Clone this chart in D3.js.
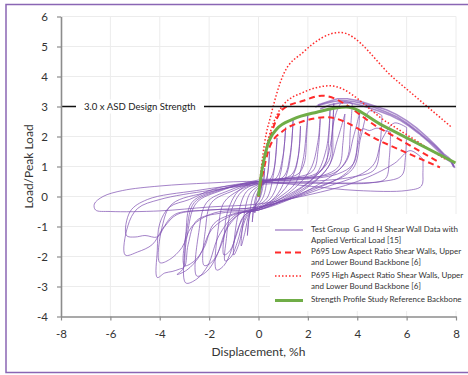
<!DOCTYPE html>
<html><head><meta charset="utf-8">
<script src="https://cdn.jsdelivr.net/npm/d3@7"></script>
<style>
body{margin:0;background:#fff;}
text{font-family:Lato,"Open Sans",sans-serif;}
</style></head>
<body><svg id="c" width="468" height="375"></svg>
<script>
// ---------- data ----------
const xTicks = [-8,-6,-4,-2,0,2,4,6,8];
const yTicks = [-4,-3,-2,-1,0,1,2,3,4,5,6];
const asdLevel = 3.0;
const asdLabel = "3.0 x ASD Design Strength";
const xTitle = "Displacement, %h";
const yTitle = "Load/Peak Load";
const legendLabels = [
  ["Test Group  G and H Shear Wall Data with","Applied Vertical Load [15]"],
  ["P695 Low Aspect Ratio Shear Walls, Upper","and Lower Bound Backbone [6]"],
  ["P695 High Aspect Ratio Shear Walls, Upper","and Lower Bound Backbone [6]"],
  ["Strength Profile Study Reference Backbone"]
];
// backbones
const greenX = [0, 0.1, 0.2, 0.36, 0.74, 1.4, 2.36, 3.55, 5.0, 7.98];
const greenY = [0, 0.65, 1.14, 1.69, 2.25, 2.58, 2.81, 2.98, 2.38, 1.12];
const lowUpX = [0, 0.15, 0.5, 1.0, 1.81, 2.56, 4.9, 7.22];
const lowUpY = [0, 0.9, 2.05, 2.92, 3.19, 3.36, 2.28, 1.19];
const lowLoX = [0, 0.2, 0.47, 1.0, 1.68, 2.76, 5.0, 7.35];
const lowLoY = [0, 0.85, 1.69, 2.19, 2.47, 2.64, 1.82, 0.97];
const highUpX = [0, 0.12, 0.25, 0.5, 1.0, 1.81, 3.3, 5.5, 7.82];
const highUpY = [0, 1.0, 1.8, 2.7, 4.05, 4.81, 5.47, 3.93, 2.31];
const highLoX = [0, 0.15, 0.3, 0.5, 1.0, 1.81, 2.9, 5.2, 7.55];
const highLoY = [0, 0.9, 1.6, 2.2, 3.05, 3.47, 3.69, 2.48, 1.25];
// test data: hysteresis loops [x, y]
const loop01 = [[0.15,0.6],[0.1,0.25],[0,0.12],[-0.1,-0.15],[-0.15,-0.55],[-0.1,-0.25],[0,-0.12],[0.1,0.15],[0.15,0.6]];
const loop02 = [[0.25,0.95],[0.2,0.5],[0.1,0.3],[0,0.2],[-0.12,-0.05],[-0.2,-0.4],[-0.25,-0.85],[-0.2,-0.45],[-0.1,-0.25],[0,-0.15],[0.12,0.1],[0.2,0.45],[0.25,0.95]];
const loop03 = [[0.45,1.5],[0.38,0.8],[0.25,0.45],[0,0.3],[-0.2,0.05],[-0.35,-0.5],[-0.45,-1.3],[-0.38,-0.7],[-0.25,-0.4],[0,-0.25],[0.2,0.0],[0.35,0.6],[0.45,1.5]];
const loop04 = [[0.75,1.95],[0.65,1.0],[0.45,0.55],[0,0.35],[-0.35,0.1],[-0.58,-0.6],[-0.7,-1.65],[-0.55,-1.2],[-0.35,-0.55],[0,-0.3],[0.35,-0.05],[0.6,0.7],[0.75,1.95]];
const loop05 = [[1.1,2.3],[0.98,1.3],[0.7,0.6],[0,0.4],[-0.5,0.15],[-0.85,-0.7],[-1.0,-1.95],[-0.8,-1.6],[-0.55,-0.8],[-0.25,-0.45],[0,-0.35],[0.5,-0.05],[0.9,0.8],[1.1,2.3]];
const loop06 = [[1.4,2.55],[1.28,1.4],[1.0,0.65],[0,0.45],[-0.7,0.15],[-1.15,-0.6],[-1.3,-1.4],[-1.35,-2.15],[-1.1,-2.0],[-0.85,-1.5],[-0.6,-0.8],[-0.3,-0.45],[0,-0.4],[0.7,0.0],[1.2,0.9],[1.4,2.55]];
const loop07 = [[1.7,2.35],[1.6,1.3],[1.3,0.7],[0,0.5],[-0.8,0.2],[-1.25,-0.5],[-1.38,-1.2],[-1.4,-1.95],[-1.15,-1.8],[-0.9,-1.3],[-0.6,-0.65],[0,-0.4],[0.9,0.1],[1.5,0.9],[1.7,2.35]];
const loop08 = [[2.0,2.75],[1.95,2.0],[1.85,1.1],[1.6,0.75],[1.0,0.6],[0,0.45],[-0.8,0.2],[-1.4,-0.2],[-1.62,-1.0],[-1.7,-2.45],[-1.4,-2.3],[-1.1,-1.8],[-0.8,-1.0],[-0.4,-0.5],[0,-0.4],[0.8,-0.05],[1.5,0.45],[1.8,1.2],[1.95,2.3],[2.0,2.75]];
const loop09 = [[2.5,2.6],[2.42,1.6],[2.2,0.85],[1.2,0.6],[0,0.5],[-1.0,0.2],[-1.9,-0.2],[-2.15,-1.1],[-2.2,-2.3],[-1.85,-2.15],[-1.5,-1.6],[-1.2,-0.9],[-0.6,-0.5],[0,-0.4],[1.2,0.1],[2.1,0.9],[2.4,1.8],[2.5,2.6]];
const loop10 = [[2.9,2.95],[2.85,2.0],[2.72,1.1],[2.3,0.7],[1.2,0.6],[0,0.5],[-1.2,0.2],[-2.1,-0.2],[-2.42,-1.2],[-2.5,-2.65],[-2.1,-2.5],[-1.7,-2.0],[-1.3,-1.1],[-0.7,-0.55],[0,-0.4],[1.2,0.05],[2.3,0.7],[2.75,1.6],[2.9,2.95]];
const loop11 = [[3.05,3.1],[2.98,2.1],[2.85,1.2],[2.3,0.75],[1.2,0.6],[0,0.55],[-1.5,0.2],[-2.5,-0.2],[-2.85,-1.1],[-2.95,-2.88],[-2.5,-2.75],[-2.05,-2.3],[-1.6,-1.3],[-0.9,-0.6],[0,-0.45],[1.5,0.15],[2.6,0.95],[2.95,1.9],[3.05,3.1]];
const loop12 = [[3.8,3.1],[3.72,2.2],[3.6,1.3],[3.1,0.8],[1.5,0.6],[0,0.5],[-1.5,0.25],[-2.7,-0.2],[-2.95,-1.3],[-3.05,-2.4],[-3.3,-2.6],[-2.9,-2.45],[-2.4,-2.0],[-1.9,-1.1],[-1.0,-0.6],[0,-0.45],[1.8,0.2],[2.9,1.1],[3.05,2.5],[3.4,3.15],[3.8,3.1]];
const loop13 = [[3.5,2.75],[3.42,1.8],[3.25,1.0],[2.6,0.7],[1.2,0.55],[0,0.5],[-1.6,0.2],[-2.6,-0.2],[-2.9,-1.1],[-3.0,-2.3],[-2.6,-2.15],[-2.2,-1.7],[-1.8,-0.9],[-0.9,-0.55],[0,-0.45],[1.6,0.15],[2.8,0.95],[3.2,1.9],[3.5,2.75]];
const loop14 = [[4.1,2.8],[4.02,1.9],[3.85,1.1],[3.2,0.75],[1.5,0.55],[0,0.5],[-1.8,0.25],[-2.8,-0.1],[-3.6,-0.35],[-4.0,-0.9],[-4.1,-1.8],[-4.1,-2.7],[-3.8,-2.55],[-3.5,-2.5],[-3.2,-2.42],[-3.0,-2.35],[-2.85,-1.6],[-2.5,-0.8],[-1.5,-0.55],[0,-0.45],[2.0,0.2],[3.5,1.1],[3.85,2.0],[4.1,2.8]];
const loop15 = [[5.0,2.7],[4.92,1.7],[4.7,0.9],[3.8,0.65],[2,0.5],[0,0.45],[-2,0.15],[-3.5,-0.25],[-3.9,-1.0],[-4.0,-2.2],[-3.6,-2.1],[-3.1,-1.7],[-2.7,-1.0],[-1.8,-0.55],[0,-0.4],[2.0,0.2],[3.8,0.9],[4.15,2.0],[4.5,2.85],[5.0,2.7]];
const loop16 = [[5.35,2.15],[5.3,1.3],[5.15,0.6],[4.5,0.45],[2,0.45],[0,0.4],[-2,0.2],[-4,-0.1],[-4.9,-0.4],[-5.3,-1.0],[-5.4,-1.95],[-4.9,-1.85],[-4.3,-1.6],[-3.9,-1.1],[-3.4,-0.6],[-2.0,-0.45],[0,-0.35],[2,0.15],[3.7,0.9],[4.05,1.8],[4.2,2.25],[4.5,2.2],[4.8,2.28],[5.1,2.2],[5.35,2.15]];
const loop17 = [[6.0,2.3],[5.95,1.3],[5.8,0.7],[5.0,0.5],[2.5,0.45],[0,0.45],[-2.5,0.2],[-4.5,-0.1],[-5.2,-0.5],[-5.35,-1.3],[-5.0,-1.35],[-4.6,-1.3],[-4.1,-1.35],[-3.8,-1.0],[-3.3,-0.6],[-2,-0.45],[0,-0.35],[2.5,0.25],[4.6,1.0],[5.0,1.9],[5.5,2.45],[6.0,2.3]];
const loop18 = [[6.66,1.25],[6.66,0.8],[6.6,0.35],[6.0,0.2],[4,0.2],[2,0.35],[0,0.5],[-2,0.45],[-4,0.35],[-5.5,0.2],[-6.3,0.0],[-6.65,-0.25],[-6.6,-0.45],[-6.0,-0.5],[-4,-0.48],[-2,-0.35],[0,-0.25],[2,0.05],[4,0.5],[5.5,1.1],[6.14,1.53],[6.66,1.25]];
// monotonic high-side envelope trace (thick band)
const bandA = [[2.3,2.98],[2.6,3.08],[3.0,3.16],[3.3,3.2],[3.57,3.19],[3.9,3.16],[4.2,3.1],[4.6,3.0],[5.19,2.81],[5.6,2.66],[6.0,2.45],[6.4,2.2],[6.81,1.92],[7.1,1.72],[7.34,1.53],[7.6,1.3],[7.75,1.24],[7.89,1.05],[7.95,0.95]];
const bandB = [[2.4,3.05],[2.8,3.16],[3.2,3.26],[3.6,3.26],[4.0,3.2],[4.4,3.1],[4.8,2.99],[5.2,2.88],[5.6,2.73],[6.0,2.53],[6.4,2.29],[6.8,2.0],[7.2,1.68],[7.5,1.42],[7.7,1.3],[7.85,1.16],[7.9,1.0]];
const bandC = [[2.5,2.92],[2.9,3.06],[3.3,3.12],[3.7,3.12],[4.1,3.05],[4.5,2.95],[4.9,2.84],[5.3,2.72],[5.7,2.56],[6.1,2.35],[6.5,2.1],[6.9,1.82],[7.3,1.5],[7.6,1.25],[7.8,1.15],[7.92,0.98]];

// ---------- chart ----------
const svg = d3.select("#c");
const x = d3.scaleLinear().domain([-8,8]).range([61,456]);
const y = d3.scaleLinear().domain([-4,6]).range([316.5,16.5]);

// outer border
svg.append("rect").attr("x",6).attr("y",4.5).attr("width",475).attr("height",368)
  .attr("fill","#fff").attr("stroke","#8a66b4").attr("stroke-width",1.5);

// grid
svg.append("g").selectAll("line").data(yTicks.filter(v=>v>-4)).join("line")
  .attr("x1",x(-8)).attr("x2",x(8)).attr("y1",d=>y(d)).attr("y2",d=>y(d))
  .attr("stroke","#ececec").attr("stroke-width",1);
svg.append("g").selectAll("line").data(xTicks.filter(v=>v>-8)).join("line")
  .attr("y1",y(-4)).attr("y2",y(6)).attr("x1",d=>x(d)).attr("x2",d=>x(d))
  .attr("stroke","#ececec").attr("stroke-width",1);

const lineSmooth = d3.line().x(d=>x(d[0])).y(d=>y(d[1])).curve(d3.curveCatmullRom.alpha(0.5));
const lineLin = d3.line().x(d=>x(d[0])).y(d=>y(d[1]));
const zipXY = (xs,ys)=>xs.map((v,i)=>[v,ys[i]]);

const purple = "#7d4fb0";
const loops = [loop01,loop02,loop03,loop04,loop05,loop06,loop07,loop08,loop09,loop10,loop11,loop12,loop13,loop14,loop15,loop16,loop17,loop18];
const gData = svg.append("g");
gData.selectAll("path.loop").data(loops).join("path").attr("class","loop")
  .attr("d",lineSmooth).attr("fill","none").attr("stroke",purple)
  .attr("stroke-width",1).attr("stroke-opacity",0.7);
gData.selectAll("path.band").data([bandA,bandB,bandC]).join("path").attr("class","band")
  .attr("d",lineLin).attr("fill","none").attr("stroke",purple)
  .attr("stroke-width",1.6).attr("stroke-opacity",0.65);

// backbones
const red = "#ff2a2a";
const bb = svg.append("g");
const mono = d3.line().x(d=>x(d[0])).y(d=>y(d[1])).curve(d3.curveMonotoneX);
[[highUpX,highUpY],[highLoX,highLoY]].forEach(([xs,ys])=>{
  bb.append("path").attr("d",mono(zipXY(xs,ys))).attr("fill","none")
    .attr("stroke",red).attr("stroke-width",1.5).attr("stroke-dasharray","1.5,2");
});
[[lowUpX,lowUpY],[lowLoX,lowLoY]].forEach(([xs,ys])=>{
  bb.append("path").attr("d",mono(zipXY(xs,ys))).attr("fill","none")
    .attr("stroke",red).attr("stroke-width",2).attr("stroke-dasharray","6,4");
});
bb.append("path").attr("d",mono(zipXY(greenX,greenY))).attr("fill","none")
  .attr("stroke","#70ad47").attr("stroke-width",3);

// ASD line
svg.append("line").attr("x1",x(-8)).attr("x2",x(8)).attr("y1",y(asdLevel)).attr("y2",y(asdLevel))
  .attr("stroke","#111").attr("stroke-width",1.6);
svg.append("rect").attr("x",76).attr("y",y(asdLevel)-7).attr("width",128).attr("height",14).attr("fill","#fff");
svg.append("text").attr("x",84).attr("y",y(asdLevel)).attr("dy","0.35em")
  .attr("font-size",9.6).attr("fill","#222").text(asdLabel);

// legend
const lg = svg.append("g");
lg.append("rect").attr("x",270).attr("y",214).attr("width",192).attr("height",97).attr("fill","#fff");
const legY = [230, 252.5, 276, 300.5];
const legStyles = [
  {stroke:purple, w:1.2, dash:null, op:0.8},
  {stroke:red, w:2, dash:"6,4", op:1},
  {stroke:red, w:1.5, dash:"1.5,2", op:1},
  {stroke:"#70ad47", w:3, dash:null, op:1}
];
legendLabels.forEach((lab,i)=>{
  const s = legStyles[i];
  lg.append("line").attr("x1",275).attr("x2",303).attr("y1",legY[i]).attr("y2",legY[i])
    .attr("stroke",s.stroke).attr("stroke-width",s.w).attr("stroke-dasharray",s.dash).attr("stroke-opacity",s.op);
  lab.forEach((t,j)=>{
    lg.append("text").attr("x",311).attr("y",legY[i]-1+j*11).attr("dy","0.35em")
      .attr("font-size",8).attr("fill","#333").style("white-space","pre").text(t);
  });
});

// axes
const axCol = "#8c8c8c";
const fmt = d => String(d);
const gx = svg.append("g").attr("transform",`translate(0,${y(-4)})`)
  .call(d3.axisBottom(x).tickValues(xTicks).tickFormat(fmt).tickSize(4).tickPadding(9).tickSizeOuter(0));
const gy = svg.append("g").attr("transform",`translate(${x(-8)},0)`)
  .call(d3.axisLeft(y).tickValues(yTicks).tickFormat(fmt).tickSize(4).tickPadding(9).tickSizeOuter(0));
[gx,gy].forEach(g=>{
  g.select(".domain").attr("stroke",axCol).attr("stroke-width",1.6);
  g.selectAll(".tick line").attr("stroke",axCol).attr("stroke-width",1.2);
  g.selectAll(".tick text").attr("font-size",11.5).attr("fill","#333").attr("font-family","Lato, sans-serif");
});

svg.append("text").attr("x",258.5).attr("y",352).attr("dy","0.35em").attr("text-anchor","middle")
  .attr("font-size",12).attr("fill","#333").text(xTitle);
svg.append("text").attr("transform",`translate(29,${(y(6)+y(-4))/2}) rotate(-90)`).attr("dy","0.35em")
  .attr("text-anchor","middle").attr("font-size",12).attr("fill","#333").text(yTitle);
</script></body></html>
